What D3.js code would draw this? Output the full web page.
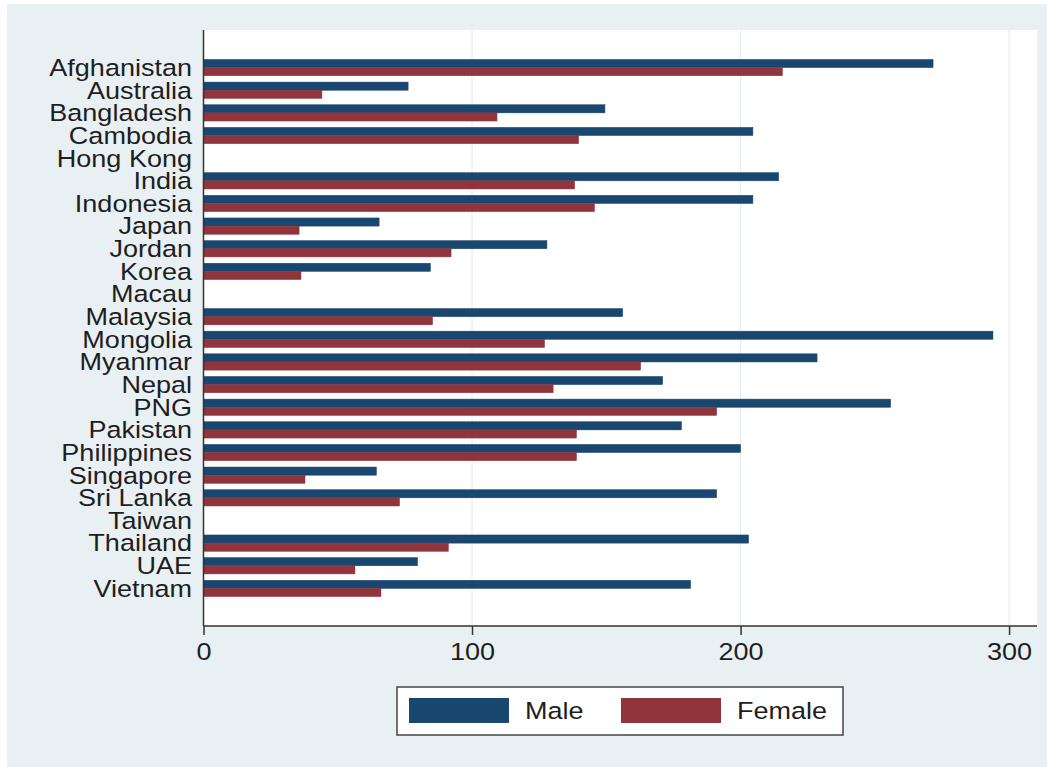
<!DOCTYPE html>
<html>
<head>
<meta charset="utf-8">
<script src="https://cdn.jsdelivr.net/npm/d3@7"></script>
<style>
  html, body { margin: 0; padding: 0; background: #ffffff; }
  svg { display: block; }
  text { font-family: "Liberation Sans", Arial, Helvetica, sans-serif; fill: #1e1e1e; }
</style>
</head>
<body>
<svg id="chart" width="1047" height="767"></svg>
<script>
// Countries, top to bottom
const countries = ["Afghanistan", "Australia", "Bangladesh", "Cambodia", "Hong Kong", "India",
  "Indonesia", "Japan", "Jordan", "Korea", "Macau", "Malaysia", "Mongolia", "Myanmar", "Nepal",
  "PNG", "Pakistan", "Philippines", "Singapore", "Sri Lanka", "Taiwan", "Thailand", "UAE", "Vietnam"];

// Series values (null = no data)
const male = [271.7, 76.2, 149.5, 204.6, null, 214.2, 204.6, 65.4, 127.9, 84.5, null, 156.1, 294.0,
  228.5, 171.0, 255.9, 178.0, 200.0, 64.4, 191.1, null, 203.0, 79.7, 181.4];
const female = [215.6, 44.1, 109.3, 139.7, null, 138.2, 145.6, 35.6, 92.2, 36.3, null, 85.3, 127.0,
  162.8, 130.2, 191.1, 138.9, 138.9, 37.8, 73.0, null, 91.2, 56.4, 66.1];

const seriesNames = ["Male", "Female"];
const seriesColors = ["#1a476f", "#90353b"];
const xTicks = [0, 100, 200, 300];

const svg = d3.select("#chart");
const W = 1047, H = 767;
const plot = { left: 203.5, right: 1037, top: 30, bottom: 626 };
const stretch = 1.15;   // horizontal text stretch
const fontSize = 23.5;

// outer graph region
svg.append("rect").attr("x", 7).attr("y", 4).attr("width", W - 7).attr("height", H - 4)
  .attr("fill", "#e9f0f3");

// plot region
svg.append("rect").attr("x", plot.left).attr("y", plot.top)
  .attr("width", plot.right - plot.left).attr("height", plot.bottom - plot.top)
  .attr("fill", "#ffffff");

const x = d3.scaleLinear().domain([0, 310.4]).range([plot.left, plot.right]);
const y = d3.scaleBand().domain(countries).range([plot.top, plot.bottom])
  .paddingInner(0).paddingOuter(1.16);
const groupFrac = 0.72;
const sub = d3.scaleBand().domain(seriesNames).range([0, y.bandwidth() * groupFrac]);

// vertical gridlines
svg.append("g").selectAll("line").data(xTicks.filter(t => t > 0)).join("line")
  .attr("x1", d => x(d)).attr("x2", d => x(d))
  .attr("y1", plot.top).attr("y2", plot.bottom)
  .attr("stroke", "#e4edf0").attr("stroke-width", 1.2);

// bars
const rows = countries.map((c, i) => ({ country: c, values: [male[i], female[i]] }));
const barsG = svg.append("g");
rows.forEach(r => {
  const top = y(r.country) + y.bandwidth() * (1 - groupFrac) / 2;
  r.values.forEach((v, k) => {
    if (v == null) return;
    barsG.append("rect")
      .attr("x", x(0))
      .attr("y", top + sub(seriesNames[k]))
      .attr("width", x(v) - x(0))
      .attr("height", sub.bandwidth())
      .attr("fill", seriesColors[k])
      .attr("stroke", seriesColors[k]).attr("stroke-width", 0.5);
  });
});

// y axis labels
svg.append("g").selectAll("text").data(countries).join("text")
  .attr("transform", d => `translate(192,${y(d) + y.bandwidth() / 2}) scale(${stretch},1)`)
  .attr("text-anchor", "end")
  .attr("dominant-baseline", "central")
  .attr("font-size", fontSize)
  .text(d => d);

// y axis line
svg.append("line").attr("x1", plot.left).attr("x2", plot.left)
  .attr("y1", plot.top).attr("y2", plot.bottom)
  .attr("stroke", "#333").attr("stroke-width", 1.5);

// x axis
const xAxis = d3.axisBottom(x).tickValues(xTicks).tickSize(9).tickPadding(6).tickFormat(d3.format("d"));
const gx = svg.append("g").attr("transform", `translate(0,${plot.bottom})`).call(xAxis);
gx.select(".domain").attr("stroke", "#333").attr("stroke-width", 1.5)
  .attr("d", `M${plot.left},0H${plot.right}`);
gx.selectAll(".tick line").attr("stroke", "#333").attr("stroke-width", 1.5);
gx.selectAll(".tick text")
  .attr("font-size", fontSize)
  .attr("fill", "#1e1e1e")
  .attr("font-family", null)
  .attr("dy", null)
  .attr("y", 0)
  .attr("dominant-baseline", "central")
  .attr("transform", `translate(0,25.5) scale(${stretch},1)`);

// legend
const lg = svg.append("g");
lg.append("rect").attr("x", 397).attr("y", 687).attr("width", 446).attr("height", 48)
  .attr("fill", "#ffffff").attr("stroke", "#444").attr("stroke-width", 1.5);
const legendX = [409, 621];
seriesNames.forEach((name, k) => {
  lg.append("rect").attr("x", legendX[k]).attr("y", 698).attr("width", 100).attr("height", 25)
    .attr("fill", seriesColors[k]);
  lg.append("text")
    .attr("transform", `translate(${legendX[k] + 116},711) scale(${stretch},1)`)
    .attr("dominant-baseline", "central")
    .attr("font-size", fontSize)
    .text(name);
});
</script>
</body>
</html>
